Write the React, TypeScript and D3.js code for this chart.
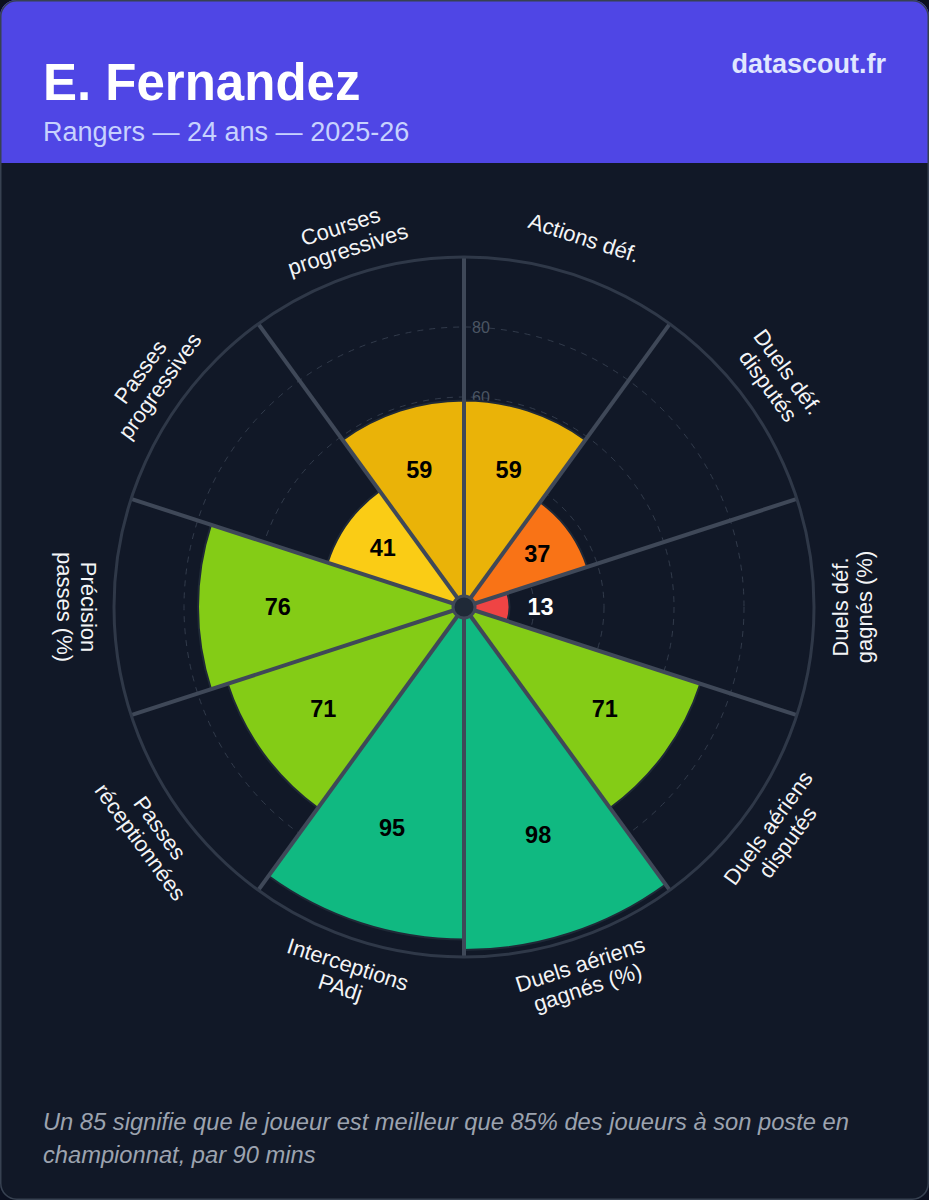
import React from "react";
import * as d3 from "d3";

const W = 929;
const H = 1200;

const playerName = "E. Fernandez";
const subtitle = "Rangers — 24 ans — 2025-26";
const brand = "datascout.fr";
const footerLines = [
  "Un 85 signifie que le joueur est meilleur que 85% des joueurs à son poste en",
  "championnat, par 90 mins",
];

const categories: string[][] = [
  ["Actions déf."],
  ["Duels déf.", "disputés"],
  ["Duels déf.", "gagnés (%)"],
  ["Duels aériens", "disputés"],
  ["Duels aériens", "gagnés (%)"],
  ["Interceptions", "PAdj"],
  ["Passes", "réceptionnées"],
  ["Précision", "passes (%)"],
  ["Passes", "progressives"],
  ["Courses", "progressives"],
];
const values = [59, 37, 13, 71, 98, 95, 71, 76, 41, 59];
const gridTicks = [20, 40, 60, 80];

function colorFor(v: number): string {
  if (v >= 90) return "#10B981";
  if (v >= 70) return "#84CC16";
  if (v >= 50) return "#EAB308";
  if (v >= 40) return "#FACC15";
  if (v >= 30) return "#F97316";
  return "#EF4444";
}

export default function App() {
  const cx = 464;
  const cy = 607;
  const rScale = d3.scaleLinear().domain([0, 100]).range([0, 350]);
  const n = values.length;
  const step = (2 * Math.PI) / n;
  const arc = d3.arc<any>();
  const labelR = 388;

  const slices = values.map((v, i) => {
    const a0 = i * step;
    const a1 = (i + 1) * step;
    const path = arc({ innerRadius: 0, outerRadius: rScale(v), startAngle: a0, endAngle: a1 }) as string;
    return { v, i, a0, a1, path };
  });

  return (
    <svg
      width={W}
      height={H}
      style={{ position: "absolute", left: 0, top: 0, display: "block" }}
      fontFamily="'Liberation Sans', Arial, Helvetica, sans-serif"
    >
      <defs>
        <clipPath id="card">
          <rect x={0} y={0} width={W} height={H} rx={16} ry={16} />
        </clipPath>
      </defs>
      <rect x={0} y={0} width={W} height={H} fill="#0b1020" />
      <g clipPath="url(#card)">
        <rect x={0} y={0} width={W} height={H} fill="#111827" />
        <rect x={0} y={0} width={W} height={163} fill="#4F46E5" />
      </g>
      <rect x={0.75} y={0.75} width={W - 1.5} height={H - 1.5} rx={16} ry={16} fill="none" stroke="#374151" strokeWidth={1.5} />

      <text x={43} y={100} fill="#ffffff" fontSize={51} fontWeight="bold">{playerName}</text>
      <text x={43} y={141} fill="#c7d2fe" fontSize={27}>{subtitle}</text>
      <text x={886} y={73} fill="#e0e7ff" fontSize={27} fontWeight="bold" textAnchor="end">{brand}</text>

      <g transform={`translate(${cx},${cy})`}>
        {gridTicks.map((t) => (
          <circle key={"g" + t} r={rScale(t)} fill="none" stroke="#374151" strokeWidth={1} strokeDasharray="6,6" opacity={0.85} />
        ))}
        {gridTicks.map((t) => (
          <text key={"gt" + t} x={8} y={-rScale(t)} dominantBaseline="central" fill="#4b5563" fontSize={16}>{t}</text>
        ))}
        {slices.map((s) => (
          <path key={"s" + s.i} d={s.path} fill={colorFor(s.v)} stroke="#1f2937" strokeWidth={2} />
        ))}
        {slices.map((s) => {
          const x = rScale(100) * Math.sin(s.a0);
          const y = -rScale(100) * Math.cos(s.a0);
          return <line key={"sp" + s.i} x1={0} y1={0} x2={x} y2={y} stroke="#3f4858" strokeWidth={4} />;
        })}
        <circle r={rScale(100)} fill="none" stroke="#2f3848" strokeWidth={3} />
        <circle r={11} fill="#1f2937" stroke="#3f4858" strokeWidth={3} />
        {slices.map((s) => {
          const mid = (s.a0 + s.a1) / 2;
          const small = s.v < 20;
          const rr = small ? rScale(s.v) + 31 : rScale(s.v) * 0.7;
          return (
            <text
              key={"v" + s.i}
              x={rr * Math.sin(mid)}
              y={-rr * Math.cos(mid)}
              textAnchor="middle"
              dominantBaseline="central"
              fontSize={23.5}
              fontWeight="bold"
              fill={small ? "#ffffff" : "#000000"}
            >
              {s.v}
            </text>
          );
        })}
        {slices.map((s) => {
          const mid = (s.a0 + s.a1) / 2;
          const deg = (mid * 180) / Math.PI;
          let rot = deg;
          if (deg > 89 && deg < 271) rot = deg - 180;
          if (rot > 180) rot -= 360;
          const x = labelR * Math.sin(mid);
          const y = -labelR * Math.cos(mid);
          const lines = categories[s.i];
          const lh = 24;
          return (
            <text
              key={"l" + s.i}
              transform={`translate(${x},${y}) rotate(${rot})`}
              textAnchor="middle"
              fill="#f3f4f6"
              fontSize={22}
            >
              {lines.map((ln, k) => (
                <tspan key={k} x={0} y={(k - (lines.length - 1) / 2) * lh} dominantBaseline="central">
                  {ln}
                </tspan>
              ))}
            </text>
          );
        })}
      </g>

      {footerLines.map((ln, k) => (
        <text key={"f" + k} x={43} y={1130 + k * 33} fill="#9ca3af" fontSize={23.7} fontStyle="italic">{ln}</text>
      ))}
    </svg>
  );
}
